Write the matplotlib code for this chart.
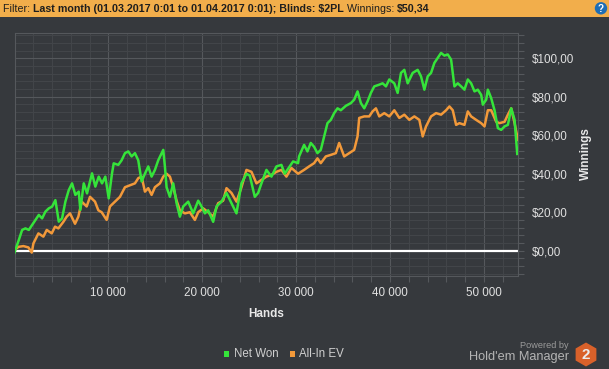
import numpy as np
import matplotlib
matplotlib.use('Agg')
import matplotlib.pyplot as plt
from matplotlib.patches import Rectangle, RegularPolygon, Circle
from matplotlib.ticker import MultipleLocator, FuncFormatter

# Net Won curve (hands, $)
net_hands = [0, 468, 819, 1170, 1532, 1883, 2234, 2596, 2947, 3298, 3660, 4011, 4362, 4723,
             5074, 5426, 5787, 6138, 6489, 6851, 7021, 7383, 7734, 8266, 8617, 8979, 9330,
             9681, 10043, 10394, 10574, 11064, 11418, 11773, 12128, 12482, 12837, 13191, 13546,
             13901, 14255, 14610, 14965, 15319, 15851, 16028, 16206, 16560, 16915, 17270,
             17624, 17979, 18511, 19043, 19574, 19929, 20284, 20638, 21170, 21525, 22057,
             22589, 23121, 23652, 24184, 24716, 25071, 25603, 25957, 26312, 26844, 27376,
             27908, 28440, 28794, 29326, 29681, 30213, 30320, 30854, 31210, 31565, 31921,
             32277, 32633, 32989, 33345, 33701, 34057, 34413, 34768, 35302, 35836, 36192,
             36548, 36904, 37260, 37616, 37971, 38327, 38861, 39217, 39573, 39929, 40463,
             40819, 41174, 41530, 41886, 42420, 42954, 43310, 43666, 44022, 44378, 44733,
             45089, 45445, 45801, 46157, 46513, 46869, 47225, 47581, 47937, 48293, 48648,
             49004, 49360, 49716, 49894, 50250, 50428, 50784, 51140, 51496, 51852, 52207,
             52563, 52919, 53275, 53560]
net_won = [-1.0, 5.6, 10.8, 11.6, 10.8, 13.4, 16, 18.6, 16.8, 20.3, 22, 22.9, 26.3, 15.1,
           16.8, 25.5, 31.5, 35, 29, 30.7, 21.2, 35, 29.8, 40.2, 33.3, 38.5, 35,
           38.5, 27.2, 40.2, 45.4, 44.6, 47, 50.7, 51.6, 49, 50.7, 47, 36,
           40, 43.8, 38.5, 42, 47, 52.4, 43.8, 33, 28, 35, 24.7,
           17.7, 23, 25.5, 19.4, 26, 23, 19.4, 21, 15, 23, 25.5,
           30, 24.7, 19.4, 35, 40, 39, 28, 30, 35, 42, 38.5,
           43.8, 44.6, 40, 43.8, 46.4, 45.5, 49, 55, 51.6, 56, 54,
           50.7, 52.4, 59.4, 66.3, 68, 71.5, 74, 73, 75.3, 76.7, 78.5,
           82.8, 76.7, 74, 77.6, 82, 85.4, 86.3, 87, 85.4, 89, 87,
           82, 92.4, 94, 87, 92.4, 94, 90.6, 83.7, 90.6, 92.4, 97.6,
           100.2, 102.8, 101.4, 102, 99.3, 85.4, 87, 85.4, 83.7, 89, 87,
           82.8, 83.7, 81, 75.9, 78.5, 83.7, 79.3, 73, 63.7, 62.8, 64.6,
           65.4, 74, 68, 50.3]

# All-In EV curve
ev_hands = [0, 426, 957, 1489, 1844, 2021, 2553, 3085, 3440, 3972, 4326, 4681, 5213, 5567,
            5922, 6454, 6809, 7163, 7695, 8050, 8582, 8936, 9291, 9823, 10177, 10709,
            11241, 11773, 12305, 12837, 13191, 13546, 13901, 14255, 14610, 14965, 15496,
            15851, 16206, 16560, 16915, 17270, 17624, 18156, 18688, 19220, 19574, 20106,
            20638, 21170, 21702, 22234, 22589, 23121, 23652, 24184, 24716, 25248, 25780,
            26312, 26844, 27376, 27908, 28440, 28972, 29504, 30213, 30854, 31387, 31921,
            32277, 32633, 33167, 33701, 34235, 34590, 35124, 35658, 36192, 36548, 36726,
            37260, 37793, 38149, 38505, 38861, 39395, 39929, 40463, 40997, 41530, 42064,
            42598, 43132, 43488, 43844, 44378, 44911, 45445, 45979, 46335, 46691, 47047,
            47403, 47937, 48293, 48648, 49182, 49716, 50072, 50428, 50784, 51318, 51674,
            52207, 52563, 52919, 53275, 53631]
all_in_ev = [0.3, 2, 2.4, 1.7, -1, 3.8, 9, 7.3, 10.8, 9, 12.5, 11.6, 15, 17.7,
             19.4, 14, 17.7, 25.5, 23, 28, 25.5, 21, 20, 16, 23, 25.5,
             28, 33, 34, 35, 37.7, 38.5, 30.7, 32.5, 29, 33, 35,
             38.5, 40, 38.5, 33, 26, 21, 19.4, 20, 16, 20, 22,
             20, 17.7, 24.7, 26, 32.5, 30, 25.5, 33, 42, 41, 35,
             36.8, 38.5, 39.4, 41, 42, 38.5, 43, 40, 42, 43.8, 45.5,
             48, 45.5, 49, 49.8, 50.7, 56, 49, 50.7, 52.4, 59.4, 69,
             69.8, 69.8, 72.4, 74, 69.8, 71.5, 69.8, 73, 69, 70.7, 68,
             69.8, 68, 59.4, 64.6, 69.8, 71.5, 70.7, 73, 75, 73, 65.4,
             66.3, 65.4, 72.4, 69.8, 68, 66.3, 64.6, 73, 73, 67, 66.3,
             67, 70.7, 74, 66.3, 57.6]

header_parts = [('Filter: ', 'normal'),
                ('Last month (01.03.2017 0:01 to 01.04.2017 0:01); Blinds: $2PL', 'bold'),
                (' Winnings: ', 'normal'),
                ('$50,34', 'bold')]

W, H = 609, 369
BG = '#36393d'
GREEN = '#35e43a'
ORANGE = '#f2993a'
FONT = ['Liberation Sans', 'DejaVu Sans']

plt.rcParams['font.family'] = FONT

fig = plt.figure(figsize=(W / 100, H / 100), dpi=100, facecolor=BG)

# main chart area
ax = fig.add_axes([15 / W, 93 / H, 503 / W, 243 / H])
ax.set_facecolor(BG)
ax.plot(ev_hands, all_in_ev, color=ORANGE, lw=1.8, zorder=3)
ax.plot(net_hands, net_won, color=GREEN, lw=1.8, zorder=4)
ax.axhline(0, color='white', lw=1.6, zorder=2)

ax.set_xlim(60, 53640)
ax.set_ylim(-13.15, 113.15)

ax.xaxis.set_major_locator(MultipleLocator(10000))
ax.xaxis.set_minor_locator(MultipleLocator(2000))
ax.yaxis.set_major_locator(MultipleLocator(20))
ax.yaxis.set_minor_locator(MultipleLocator(4))
ax.xaxis.set_major_formatter(FuncFormatter(lambda v, p: f'{int(v):,}'.replace(',', ' ')))
ax.yaxis.set_major_formatter(FuncFormatter(lambda v, p: f'${int(v)},00'))
ax.yaxis.tick_right()

ax.grid(which='major', color='#55585c', lw=0.8)
ax.grid(which='minor', color='#43464a', lw=0.7)
ax.set_axisbelow(True)
for s in ax.spines.values():
    s.set_color('#55585c')
    s.set_linewidth(0.8)

ax.tick_params(which='both', direction='out', color='#55585c', length=4, width=0.8,
               labelcolor='#e0e0e0', labelsize=8.4)
ax.tick_params(axis='x', pad=4)
ax.tick_params(axis='y', pad=6)

fig.text(266 / W, 1 - 314 / H, 'Hands', ha='center', va='center', color='#e8e8e8',
         fontsize=8.5, fontweight='bold')
fig.text(586 / W, 1 - 154 / H, 'Winnings', ha='center', va='center', rotation=90,
         color='#e8e8e8', fontsize=8.5, fontweight='bold')

# overlay in pixel coordinates for header, legend and logo
ov = fig.add_axes([0, 0, 1, 1], facecolor='none')
ov.set_xlim(0, W)
ov.set_ylim(H, 0)
ov.axis('off')

ov.add_patch(Rectangle((0, 0), W, 17, color='#f2ae4b', lw=0))
r = fig.canvas.get_renderer()
x = 3
for txt, wt in header_parts:
    t = ov.text(x, 8.8, txt, ha='left', va='center', fontsize=7.7, fontweight=wt,
                color='#1e1e1e', family=['Liberation Sans Narrow', 'Liberation Sans'])
    bb = t.get_window_extent(r)
    x += bb.width
ov.add_patch(Circle((601, 8.3), 6.2, color='#1e6db4', lw=0))
ov.text(601, 8.6, '?', ha='center', va='center', color='white', fontsize=7, fontweight='bold')

# legend
ov.add_patch(Rectangle((223.5, 350.5), 5.5, 6, color=GREEN, lw=0))
ov.text(234, 354, 'Net Won', ha='left', va='center', color='#cfcfcf', fontsize=8.3)
ov.add_patch(Rectangle((289.5, 350.5), 5.5, 6, color=ORANGE, lw=0))
ov.text(299, 354, 'All-In EV', ha='left', va='center', color='#cfcfcf', fontsize=8.3)

# Powered by logo
ov.text(569, 345, 'Powered by', ha='right', va='center', color='#9a9a9a', fontsize=6.6)
ov.text(569, 357, "Hold'em Manager", ha='right', va='center', color='#b4b4b4', fontsize=9.2)
ov.add_patch(RegularPolygon((586, 354.5), numVertices=6, radius=12, orientation=0,
                            color='#d9612a', lw=0))
ov.text(586, 355, '2', ha='center', va='center', color='#ececec', fontsize=11,
        fontweight='bold')

fig.savefig('out.png', dpi=100, facecolor=BG)
